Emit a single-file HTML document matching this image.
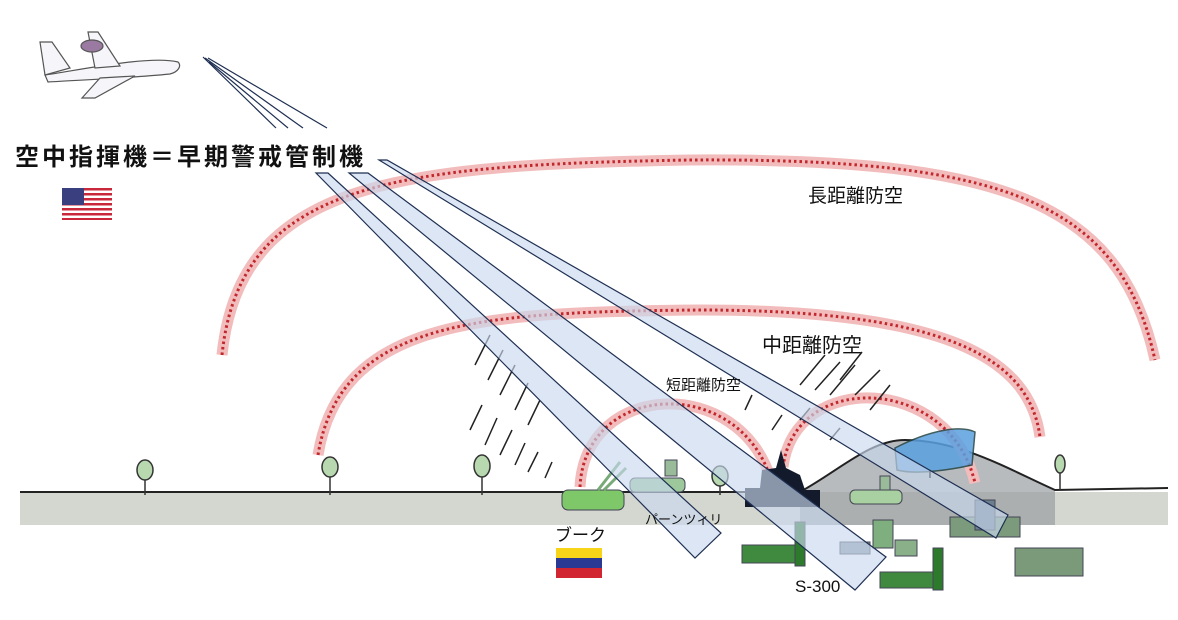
<!DOCTYPE html>
<html><head><meta charset="utf-8"><style>
html,body{margin:0;padding:0;background:#fff;width:1178px;height:620px;overflow:hidden}
svg{display:block}
text{font-family:"Liberation Sans","Noto Sans CJK JP",sans-serif}
</style></head><body>
<svg width="1178" height="620" viewBox="0 0 1178 620" xmlns="http://www.w3.org/2000/svg">
<!-- ground -->
<rect x="20" y="492" width="1148" height="33" fill="#d4d6d0"/>
<path d="M800,492 C840,470 870,440 905,440 C960,440 1010,470 1055,490 L1055,525 L800,525 Z" fill="#9a9ea2" opacity="0.7"/>
<path d="M20,492 L800,492 C840,470 870,440 905,440 C960,440 1010,470 1055,490 L1168,488" fill="none" stroke="#222" stroke-width="2"/>
<!-- arcs -->
<g fill="none">
<path d="M222,355 C240,180 400,165 690,160 C1000,158 1120,200 1155,360" stroke="#f2bcbc" stroke-width="11"/>
<path d="M222,355 C240,180 400,165 690,160 C1000,158 1120,200 1155,360" stroke="#c0282d" stroke-width="3" stroke-dasharray="2.5 3"/>
<path d="M318,455 C340,320 480,312 700,310 C950,310 1030,360 1040,437" stroke="#f2bcbc" stroke-width="11"/>
<path d="M318,455 C340,320 480,312 700,310 C950,310 1030,360 1040,437" stroke="#c0282d" stroke-width="3" stroke-dasharray="2.5 3"/>
<path d="M580,487 C585,380 740,375 771,480" stroke="#f2bcbc" stroke-width="11"/>
<path d="M580,487 C585,380 740,375 771,480" stroke="#c0282d" stroke-width="3" stroke-dasharray="2.5 3"/>
<path d="M783,467 C795,370 950,375 975,483" stroke="#f2bcbc" stroke-width="11"/>
<path d="M783,467 C795,370 950,375 975,483" stroke="#c0282d" stroke-width="3" stroke-dasharray="2.5 3"/>
</g>
<!-- rain -->
<g stroke="#222" stroke-width="1.5">
<path d="M475,365 L490,335 M488,380 L503,350 M500,395 L515,365 M515,410 L528,383 M528,425 L540,400 M470,430 L482,405 M485,445 L497,418 M500,455 L512,430 M515,465 L525,443 M528,472 L538,452 M545,478 L552,462"/>
<path d="M800,385 L825,355 M815,390 L840,362 M830,395 L855,365 M840,380 L862,352 M855,395 L880,370 M870,410 L890,385 M745,410 L752,395 M772,430 L782,415 M800,420 L810,408 M830,440 L840,428"/>
</g>
<!-- trees -->
<g stroke="#333" stroke-width="1.5" fill="#b8d8b0">
<line x1="145" y1="475" x2="145" y2="495"/><ellipse cx="145" cy="470" rx="8" ry="10"/>
<line x1="330" y1="475" x2="330" y2="495"/><ellipse cx="330" cy="467" rx="8" ry="10"/>
<line x1="482" y1="475" x2="482" y2="495"/><ellipse cx="482" cy="466" rx="8" ry="11"/>
<line x1="720" y1="485" x2="720" y2="495"/><ellipse cx="720" cy="476" rx="8" ry="10"/>
<line x1="1060" y1="470" x2="1060" y2="490"/><ellipse cx="1060" cy="464" rx="5" ry="9"/>
</g>
<!-- vehicles -->
<g stroke="#445" stroke-width="1">
<rect x="562" y="490" width="62" height="20" rx="6" fill="#7ec86a"/>
<path d="M598,490 L620,462 M604,490 L626,468" stroke="#7a7" stroke-width="3"/>
<rect x="630" y="478" width="55" height="14" rx="5" fill="#9cc89c"/><rect x="665" y="460" width="12" height="16" fill="#9b9"/>
<rect x="850" y="490" width="52" height="14" rx="5" fill="#a9d0a0"/><rect x="880" y="476" width="10" height="14" fill="#9b9"/>
<rect x="950" y="517" width="70" height="20" fill="#7c9a7c"/><rect x="975" y="500" width="20" height="30" fill="#6b7f8f"/>
<rect x="742" y="545" width="60" height="18" fill="#3f8a3f"/><rect x="795" y="522" width="10" height="44" fill="#2d7a2d"/>
<rect x="840" y="542" width="30" height="12" fill="#8a9aa6"/><rect x="873" y="520" width="20" height="28" fill="#7fae7f"/><rect x="895" y="540" width="22" height="16" fill="#8ab08a"/>
<rect x="880" y="572" width="60" height="16" fill="#3f8a3f"/><rect x="933" y="548" width="10" height="42" fill="#2d7a2d"/>
<rect x="1015" y="548" width="68" height="28" fill="#7a9a7a"/>
</g>
<!-- city -->
<path d="M745,507 L745,488 L760,488 L762,470 L776,468 L781,450 L786,468 L800,475 L805,490 L820,490 L820,507 Z" fill="#131a2c"/>
<!-- radar -->
<path d="M895,448 C930,430 960,425 975,432 L972,465 C950,470 915,475 897,470 Z" fill="#5aa0e0" stroke="#244" stroke-width="1.5" opacity="0.85"/>
<line x1="930" y1="470" x2="930" y2="478" stroke="#222" stroke-width="2"/>
<!-- beams -->
<g stroke="#1e2f52" stroke-width="1.2" fill="#c9d8ee" fill-opacity="0.65">
<polygon points="316,173 328,173 721,533 695,558"/>
<polygon points="349,173 368,173 886,557 855,590"/>
<polygon points="379,160 387,160 1008,515 996,538"/>
</g>
<g stroke="#1e2f52" stroke-width="1.2">
<line x1="203" y1="57" x2="276" y2="128"/><line x1="209" y1="62" x2="288" y2="128"/>
<line x1="205" y1="58" x2="303" y2="128"/><line x1="208" y1="58" x2="327" y2="128"/>
</g>
<!-- plane -->
<g stroke="#555" stroke-width="1.2" fill="#f6f6fa">
<path d="M45,75 C80,70 150,55 178,62 C182,66 178,72 170,74 C130,78 80,80 48,82 Z"/>
<path d="M45,75 L40,42 L52,42 L70,68 Z"/>
<path d="M100,78 L82,98 L95,98 L135,76 Z"/>
<path d="M95,68 L88,32 L98,32 L120,66 Z"/>
<ellipse cx="92" cy="46" rx="11" ry="6" fill="#9a7aa0"/>
</g>
<!-- flags -->
<g>
<rect x="62" y="188" width="50" height="32" fill="#fff"/>
<g fill="#c8283a"><rect x="62" y="188" width="50" height="2.5"/><rect x="62" y="193" width="50" height="2.5"/><rect x="62" y="198" width="50" height="2.5"/><rect x="62" y="203" width="50" height="2.5"/><rect x="62" y="208" width="50" height="2.5"/><rect x="62" y="213" width="50" height="2.5"/><rect x="62" y="218" width="50" height="2"/></g>
<rect x="62" y="188" width="22" height="17" fill="#3a3f80"/>
<rect x="556" y="548" width="46" height="10" fill="#f7d417"/><rect x="556" y="558" width="46" height="10" fill="#2a3a94"/><rect x="556" y="568" width="46" height="10" fill="#d12631"/>
</g>
<!-- labels -->
<text x="15" y="165" font-size="24" font-weight="bold" letter-spacing="3" fill="#111">空中指揮機＝早期警戒管制機</text>
<text x="808" y="202" font-size="19" fill="#111">長距離防空</text>
<text x="762" y="352" font-size="20" fill="#111">中距離防空</text>
<text x="666" y="390" font-size="15" fill="#111">短距離防空</text>
<text x="555" y="541" font-size="17" fill="#111">ブーク</text>
<text x="645" y="524" font-size="13" fill="#111">パーンツィリ</text>
<text x="795" y="592" font-size="17" fill="#111">S-300</text>
</svg>
</body></html>
